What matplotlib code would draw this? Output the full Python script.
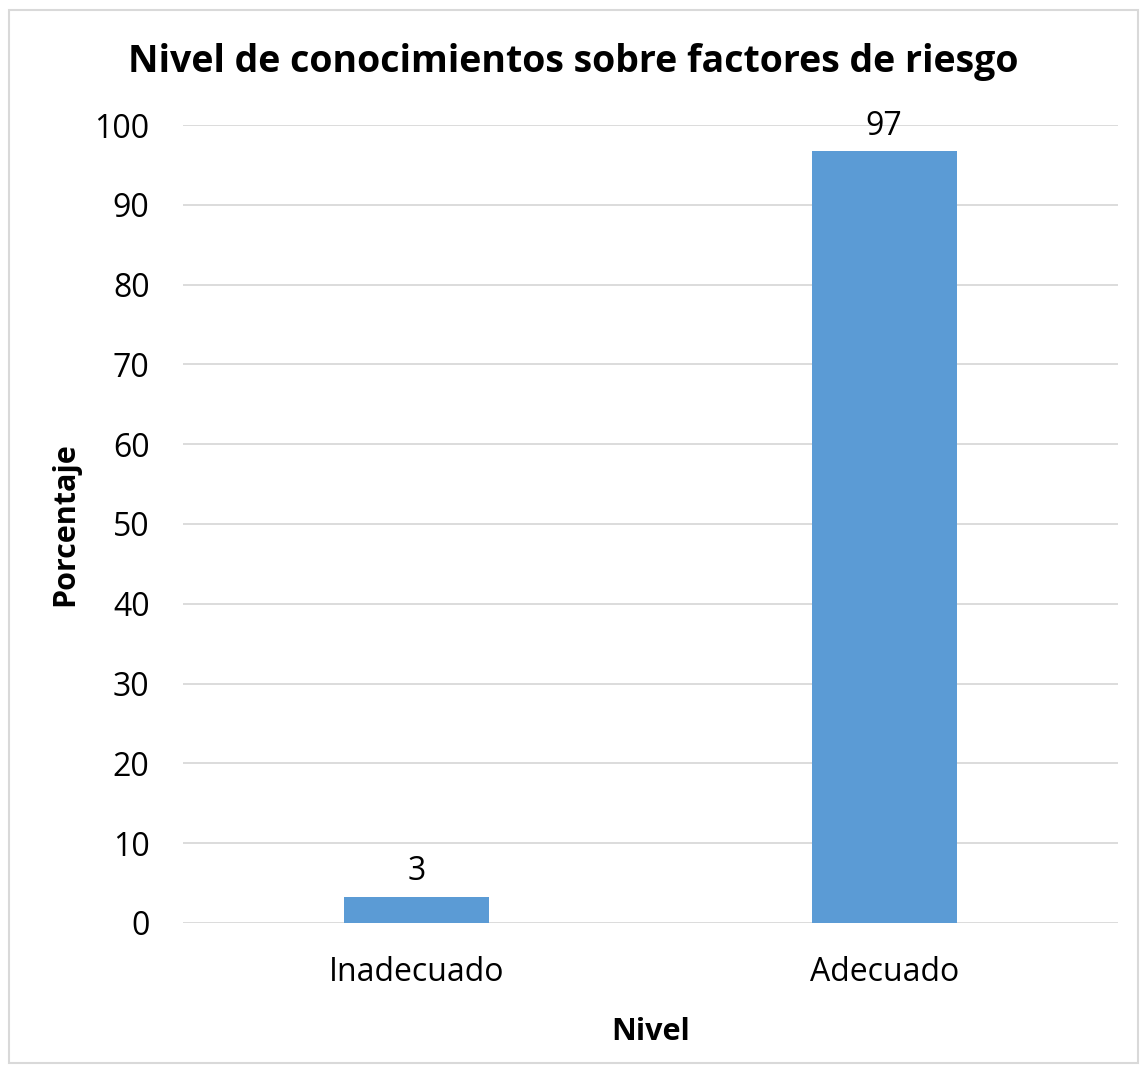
import matplotlib
matplotlib.use("Agg")
import matplotlib.pyplot as plt
from matplotlib.patches import Rectangle

niveles = ["Inadecuado", "Adecuado"]
porcentajes = [3.3, 96.7]
etiquetas = ["3", "97"]
yticks = list(range(0, 101, 10))

plt.rcParams['font.family'] = ['Open Sans', 'DejaVu Sans']

fig = plt.figure(figsize=(11.47, 10.73), dpi=100)
ax = fig.add_axes([0.1595, 0.1398, 0.8152, 0.7437])

x = range(len(niveles))
bars = ax.bar(x, porcentajes, width=0.31, color="#5B9BD5", zorder=3)
for b, lab in zip(bars, etiquetas):
    ax.annotate(lab, (b.get_x() + b.get_width() / 2, b.get_height()),
                xytext=(0, 6), textcoords="offset points",
                ha="center", va="bottom", fontsize=23)

ax.set_xlim(-0.5, 1.5)
ax.set_ylim(0, 100)
ax.set_yticks(yticks)
ax.set_xticks(list(x))
ax.set_xticklabels(niveles)
ax.tick_params(axis="both", length=0, labelsize=23)
ax.tick_params(axis="y", pad=24)
ax.tick_params(axis="x", pad=24)
ax.grid(axis="y", color="#D9D9D9", linewidth=1.3, zorder=0)
for s in ax.spines.values():
    s.set_visible(False)

ax.set_xlabel("Nivel", fontsize=22, fontweight="bold", labelpad=20)
ax.set_ylabel("Porcentaje", fontsize=22, fontweight="bold", labelpad=10)
fig.text(0.5, 0.942, "Nivel de conocimientos sobre factores de riesgo",
         ha="center", va="center", fontsize=27, fontweight="bold")

fig.patches.append(Rectangle((0.008, 0.009), 0.984, 0.982, transform=fig.transFigure,
                             fill=False, edgecolor="#D9D9D9", linewidth=1.5))

fig.savefig("out.png", dpi=100, facecolor="white")
